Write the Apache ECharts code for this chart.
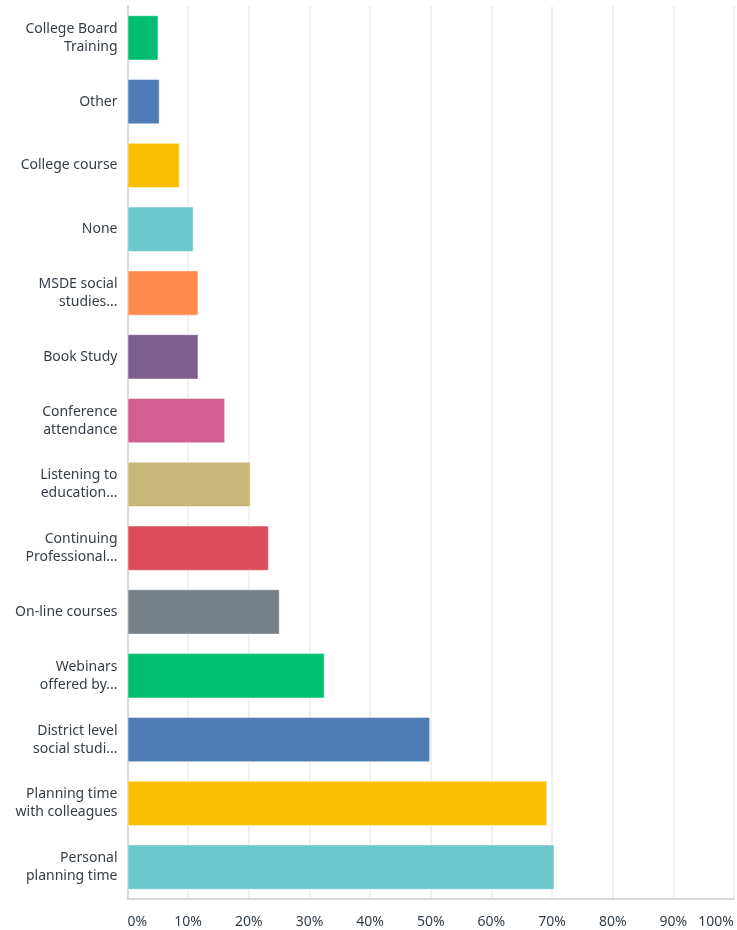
<!DOCTYPE html>
<html>
<head>
<meta charset="utf-8">
<script src="https://cdn.jsdelivr.net/npm/echarts@6/dist/echarts.min.js"></script>
<style>
  html, body { margin: 0; padding: 0; background: #ffffff; }
  #chart { width: 737px; height: 930px; }
</style>
</head>
<body>
<div id="chart"></div>
<script>
// Answer choices, top to bottom
const categories = [
  'College Board\nTraining',
  'Other',
  'College course',
  'None',
  'MSDE social\nstudies...',
  'Book Study',
  'Conference\nattendance',
  'Listening to\neducation...',
  'Continuing\nProfessional...',
  'On-line courses',
  'Webinars\noffered by...',
  'District level\nsocial studi...',
  'Planning time\nwith colleagues',
  'Personal\nplanning time'
];

// Share of respondents (%)
const percentages = [5.1, 5.3, 8.6, 10.9, 11.7, 11.7, 16.1, 20.3, 23.3, 25.1, 32.5, 49.9, 69.2, 70.4];

// Bar colours, cycled per category
const palette = ['#00bf6f', '#507cb6', '#f9be00', '#6bc8cd', '#ff8b4f', '#7d5e90', '#d25f90', '#c7b879', '#db4d5c', '#768086'];

// Value axis ticks
const tickValues = [0, 10, 20, 30, 40, 50, 60, 70, 80, 90, 100];

const chart = echarts.init(document.getElementById('chart'), null, { renderer: 'canvas' });

chart.setOption({
  animation: false,
  backgroundColor: '#ffffff',
  grid: { left: 127.5, right: 1, top: 6, bottom: 31, containLabel: false },
  xAxis: {
    type: 'value',
    min: tickValues[0],
    max: tickValues[tickValues.length - 1],
    interval: tickValues[1] - tickValues[0],
    axisLine: { show: true, lineStyle: { color: '#d9d9d9', width: 2 } },
    axisTick: { show: false },
    splitLine: { show: true, lineStyle: { color: '#ececec', width: 1.5 } },
    axisLabel: {
      formatter: '{value}%',
      color: '#333e48',
      fontFamily: 'Noto Sans',
      fontSize: 14,
      margin: 16,
      alignMinLabel: 'left',
      alignMaxLabel: 'right'
    }
  },
  yAxis: {
    type: 'category',
    inverse: true,
    data: categories,
    axisLine: { show: true, lineStyle: { color: '#d9d9d9', width: 2 } },
    axisTick: { show: false },
    axisLabel: {
      color: '#333e48',
      fontFamily: 'Noto Sans',
      fontSize: 14,
      lineHeight: 18,
      margin: 10,
      align: 'right'
    }
  },
  series: [{
    type: 'bar',
    data: percentages.map((v, i) => ({
      value: v,
      itemStyle: { color: palette[i % palette.length] }
    })),
    barCategoryGap: '29%',
    itemStyle: { borderColor: 'rgba(255,255,255,0.45)', borderWidth: 1 }
  }]
});
</script>
</body>
</html>
